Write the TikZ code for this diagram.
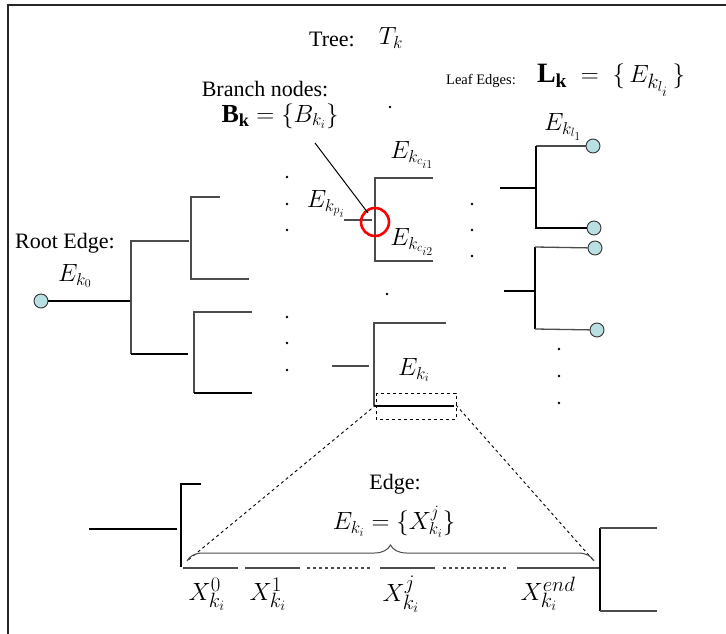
\documentclass[tikz,border=0pt]{standalone}
\usepackage{fontspec}
\setmainfont{Liberation Serif}
\usetikzlibrary{decorations.pathreplacing}
\definecolor{leafc}{RGB}{184,224,226}
\tikzset{
  thn/.style={line width=1.3pt, draw=black!70},
  thk/.style={line width=2pt, draw=black},
  leaf/.style={circle, draw=black!80, fill=leafc, line width=0.9pt, minimum size=14pt, inner sep=0pt},
  lbl/.style={inner sep=0pt, font=\fontsize{22}{26}\selectfont},
  slbl/.style={inner sep=0pt, font=\fontsize{14.5}{17}\selectfont},
  mlbl/.style={inner sep=0pt, font=\fontsize{26}{30}\selectfont},
  blbl/.style={inner sep=0pt, font=\fontsize{28}{32}\selectfont},
}
\begin{document}
\begin{tikzpicture}[x=1pt,y=-1pt]
\useasboundingbox (0,0) rectangle (726,634);
% frame
\draw[line width=1.8pt, black!85] (8,634) -- (8,5) -- (726,5);

% titles
\node[lbl] (tree) at (332,39) {Tree:};
\node[mlbl] (tk) at (391,38) {$T_k$};
\node[lbl] (bn) at (265,89) {Branch nodes:};
\node[mlbl] (bk) at (280,116) {$\mathbf{B_k}=\{B_{k_i}\}$};
\node[slbl] (le) at (481,81) {Leaf Edges:};
\node[blbl] (lk) at (611,80) {$\mathbf{L_k}\;=\;\{\,E_{k_{l_i}}\,\}$};

% root
\node[lbl] (re) at (65,243) {Root Edge:};
\node[mlbl] (ek0) at (75,276) {$E_{k_0}$};
\node[leaf] (root) at (41,301) {};
\coordinate (j0) at (131,301);
\draw[thk] (root) -- (j0);
\draw[thn] (189,241) -- (131,241) -- (131,354);
\draw[thk] (131,354) -- (188,354);
% upper subtree
\draw[thn] (220,197) -- (191,197) -- (191,279) -- (249,279);
% lower subtree
\draw[thn] (252,312) -- (194,312) -- (194,393);
\draw[thk] (194,393) -- (252,393);

% dots
\foreach \p in {(287,177),(287,204),(287,230),(287,317),(287,343),(287,370),
                (390,107),(387,294),(472,204),(472,230),(472,256),
                (559,349),(559,376),(559,403)}
  \fill \p circle (1.4);

% middle branch node
\draw[thn] (344,220) -- (372,220);
\draw[thn] (433,178) -- (375,178) -- (375,261) -- (433,261);
\node[draw=red, line width=2.6pt, circle, minimum size=28pt, inner sep=0pt] (bnode) at (375,222) {};
\coordinate (ptr) at (315,143);
\draw[line width=1pt] (ptr) -- (368,213);
\node[mlbl] (ecp) at (326,204) {$E_{k_{p_i}}$};
\node[mlbl] (ec1) at (412,155) {$E_{k_{c_{i1}}}$};
\node[mlbl] (ec2) at (412,242) {$E_{k_{c_{i2}}}$};

% lower middle
\draw[thn] (332,366) -- (369,366);
\draw[thn] (446,323) -- (374,323) -- (374,406);
\draw[thk] (374,406) -- (454,406);
\node[mlbl] (eki) at (414,370) {$E_{k_i}$};
\draw[dashed, line width=0.9pt] (376,393) rectangle (456,419);
\coordinate (el) at (376,405);
\coordinate (er) at (456,405);
\coordinate (bl) at (187,561);
\coordinate (br) at (594,561);
\draw[dashed, line width=0.9pt] (el) -- (bl);
\draw[dashed, line width=0.9pt] (er) -- (br);
\draw[thn, line width=1pt, decorate, decoration={brace, amplitude=16pt}] (bl) -- (br);

% right leaves 1
\draw[thk] (500,188) -- (536,188);
\node[leaf] (l1) at (593,146) {};
\node[leaf] (l2) at (594,228) {};
\draw[thn] (l1) -- (536,146);
\draw[thk] (536,146) -- (536,228) -- (l2);
\node[mlbl] (el1) at (563,127) {$E_{k_{l_1}}$};
% right leaves 2
\draw[thk] (504,291) -- (535,291);
\node[leaf] (l3) at (595,248) {};
\node[leaf] (l4) at (597,330) {};
\draw[thk] (535,247) -- (535,329);
\draw[thn] (535,247) -- (l3);
\draw[thn] (535,329) -- (l4);

% bottom edge detail
\node[lbl] (edge) at (395,484) {Edge:};
\node[mlbl] (edef) at (394,522) {$E_{k_i}=\{X^j_{k_i}\}$};
\draw[thk] (89,529) -- (177,529);
\draw[thk] (201,484) -- (181,484) -- (181,567);
\draw[thn] (183,568) -- (238,568);
\draw[thn] (245,568) -- (300,568);
\draw[thn, dashed] (307,568) -- (370,568);
\draw[thn] (380,568) -- (435,568);
\draw[thn, dashed] (443,568) -- (507,568);
\draw[thn] (517,568) -- (600,568);
\draw[thk] (600,528) -- (600,611);
\draw[thn] (600,528) -- (657,528);
\draw[thn] (600,611) -- (657,611);
\node[blbl] (x0) at (207,594) {$X^0_{k_i}$};
\node[blbl] (x1) at (268,594) {$X^1_{k_i}$};
\node[blbl] (xj) at (401,594) {$X^j_{k_i}$};
\node[blbl] (xe) at (548,594) {$X^{end}_{k_i}$};
\end{tikzpicture}
\end{document}
